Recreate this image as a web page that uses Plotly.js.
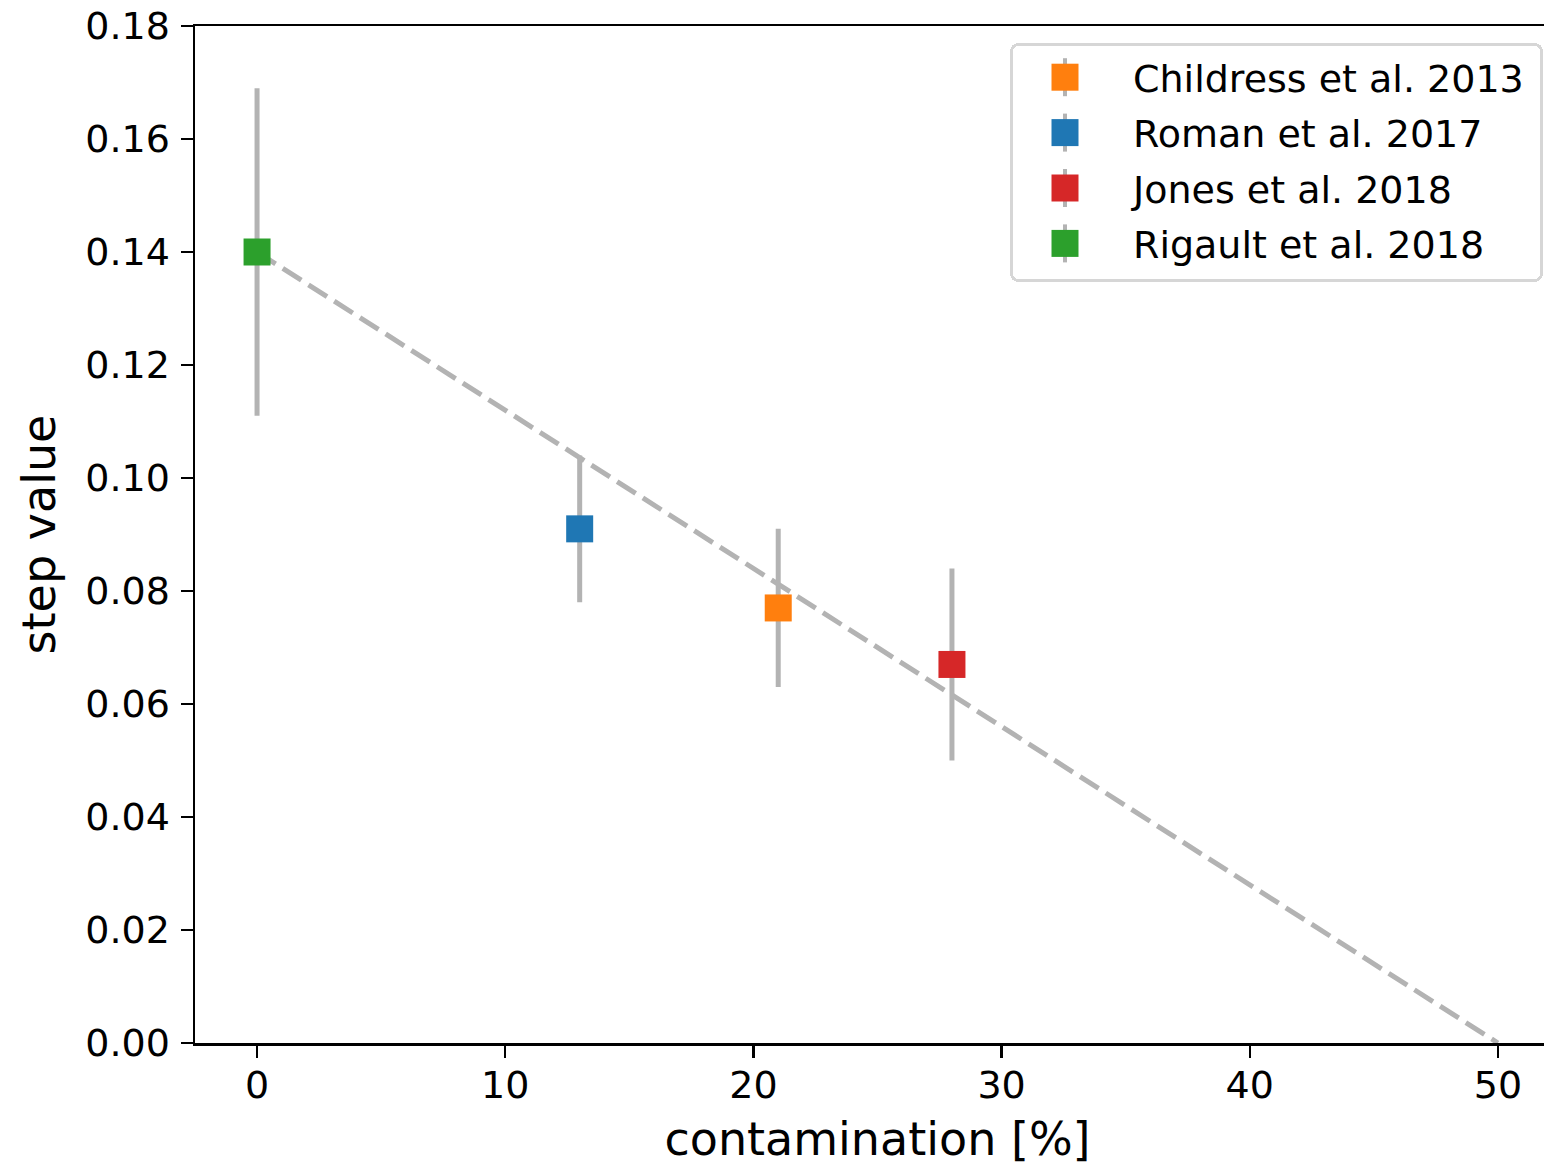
<!DOCTYPE html>
<html>
<head>
<meta charset="utf-8">
<script src="https://cdn.plot.ly/plotly-3.0.1.min.js"></script>
<style>
  html, body { margin: 0; padding: 0; background: #ffffff; overflow: hidden; }
  #chart { width: 1561px; height: 1166px; }
</style>
</head>
<body>
<div id="chart"></div>
<script>
// Step value versus host contamination for four supernova studies
const studies = ['Childress et al. 2013', 'Roman et al. 2017', 'Jones et al. 2018', 'Rigault et al. 2018'];
const contamination = [21, 13, 28, 0];
const stepValue = [0.077, 0.091, 0.067, 0.140];
const stepError = [0.014, 0.013, 0.017, 0.029];
const studyColors = ['#ff7f0e', '#1f77b4', '#d62728', '#2ca02c'];

// Linear trend from the uncontaminated step down to zero
const trendX = [0, 50];
const trendY = [0.14, 0.0];

const xTicks = [0, 10, 20, 30, 40, 50];
const yTicks = [0.00, 0.02, 0.04, 0.06, 0.08, 0.10, 0.12, 0.14, 0.16, 0.18];

const grey = '#b3b3b3';
const fontFamily = '"DejaVu Sans", "Liberation Sans", sans-serif';
const markerSide = 27;

const traces = [{
  x: trendX,
  y: trendY,
  type: 'scatter',
  mode: 'lines',
  line: { color: grey, width: 5, dash: '22px,8.5px' },
  showlegend: false,
  hoverinfo: 'skip'
}];

studies.forEach((name, i) => {
  traces.push({
    x: [contamination[i]],
    y: [stepValue[i]],
    type: 'scatter',
    mode: 'markers',
    name: name,
    legendgroup: 'g' + i,
    marker: { symbol: 'square', size: markerSide, color: studyColors[i], line: { width: 0 } },
    error_y: { type: 'data', array: [stepError[i]], visible: true, color: grey, thickness: 5, width: 0 }
  });
});

const layout = {
  width: 1561,
  height: 1166,
  margin: { l: 195, r: 1, t: 26, b: 123 },
  paper_bgcolor: '#ffffff',
  plot_bgcolor: '#ffffff',
  font: { family: fontFamily, size: 38, color: '#000000' },
  showlegend: true,
  legend: {
    x: (1010 - 195) / (1560 - 195),
    xanchor: 'left',
    y: (1043 - 43) / (1043 - 26),
    yanchor: 'top',
    bgcolor: '#ffffff',
    bordercolor: '#d6d6d6',
    borderwidth: 3,
    tracegroupgap: 3,
    itemwidth: 110,
    font: { family: fontFamily, size: 38, color: '#000000' }
  },
  xaxis: {
    range: [-2.5, 52.5],
    tickvals: xTicks,
    ticktext: xTicks.map(String),
    showgrid: false,
    zeroline: false,
    showline: true,
    linecolor: '#000000',
    linewidth: 2.5,
    mirror: true,
    ticks: 'outside',
    ticklen: 12,
    tickwidth: 2.5,
    tickcolor: '#000000',
    ticklabelstandoff: -5,
    tickfont: { family: fontFamily, size: 38, color: '#000000' },
    title: { text: 'contamination [%]', font: { family: fontFamily, size: 46, color: '#000000' }, standoff: 18 }
  },
  yaxis: {
    range: [0, 0.18],
    tickvals: yTicks,
    ticktext: yTicks.map(v => v.toFixed(2)),
    showgrid: false,
    zeroline: false,
    showline: true,
    linecolor: '#000000',
    linewidth: 2.5,
    mirror: false,
    ticks: 'outside',
    ticklen: 12,
    tickwidth: 2.5,
    tickcolor: '#000000',
    ticklabelstandoff: 3,
    tickfont: { family: fontFamily, size: 38, color: '#000000' },
    title: { text: 'step value', font: { family: fontFamily, size: 46, color: '#000000' }, standoff: 15 }
  }
};

// Legend styling: full-size squares with a short grey error bar behind them,
// and a slightly wider frame with rounded corners
function styleLegend(gd) {
  const svgNS = 'http://www.w3.org/2000/svg';
  const h = markerSide / 2;
  const shift = ' translate(-8,0)';
  gd.querySelectorAll('.legend .legendpoints path.scatterpts').forEach(pt => {
    if (pt.getAttribute('data-glyph') === '1') return;
    pt.setAttribute('data-glyph', '1');
    pt.setAttribute('d', 'M' + h + ',' + h + 'H-' + h + 'V-' + h + 'H' + h + 'Z');
    const tr = (pt.getAttribute('transform') || '') + shift;
    pt.setAttribute('transform', tr);
    const bar = document.createElementNS(svgNS, 'path');
    bar.setAttribute('d', 'M0,-19V19');
    bar.setAttribute('stroke', grey);
    bar.setAttribute('stroke-width', '4');
    bar.setAttribute('fill', 'none');
    bar.setAttribute('transform', tr);
    pt.parentNode.insertBefore(bar, pt);
  });
  const bg = gd.querySelector('.legend rect.bg');
  if (bg && bg.getAttribute('data-framed') !== '1') {
    bg.setAttribute('data-framed', '1');
    bg.setAttribute('width', parseFloat(bg.getAttribute('width')) + 11);
    bg.setAttribute('height', parseFloat(bg.getAttribute('height')) + 4);
    bg.setAttribute('rx', 7);
    bg.setAttribute('ry', 7);
  }
}

const chart = document.getElementById('chart');
Plotly.newPlot(chart, traces, layout, { displayModeBar: false, staticPlot: true })
  .then(gd => {
    styleLegend(gd);
    gd.on('plotly_afterplot', () => styleLegend(gd));
  });
</script>
</body>
</html>
